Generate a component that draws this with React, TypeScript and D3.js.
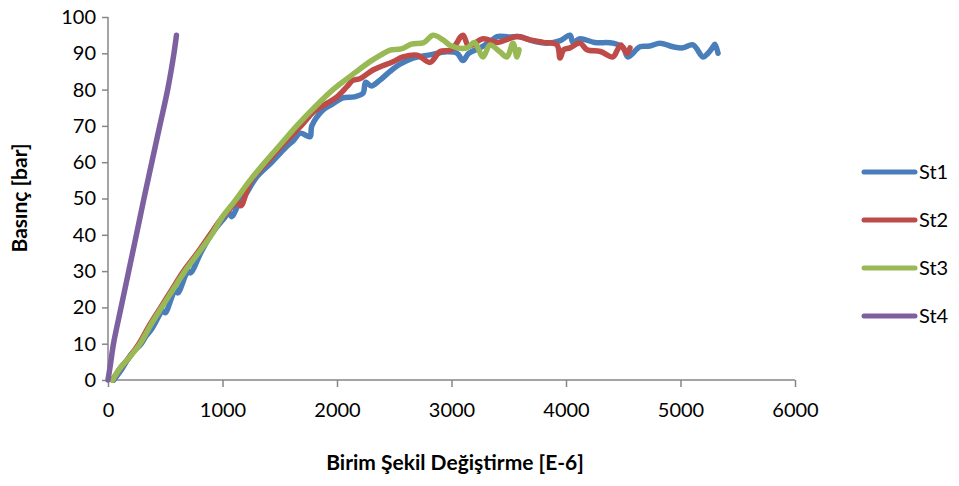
import * as d3 from "d3";
import { useEffect, useRef } from "react";

type Pt = [number, number];

const xTicks = [0, 1000, 2000, 3000, 4000, 5000, 6000];
const yTicks = [0, 10, 20, 30, 40, 50, 60, 70, 80, 90, 100];

// [strain E-6, pressure bar]
const st1: Pt[] = [
  [50, 0], [120, 3], [200, 7], [290, 10], [330, 12], [380, 14], [480, 19], [500, 18.5],
  [590, 25], [610, 24], [700, 30], [720, 29.5], [810, 35], [900, 40], [1000, 44], [1060, 46],
  [1080, 45], [1150, 49], [1200, 51], [1300, 56], [1430, 60], [1550, 64], [1620, 66], [1680, 68],
  [1764, 67], [1780, 70], [1878, 74.4], [1960, 76], [2052, 77.7], [2150, 78], [2227, 79],
  [2250, 82], [2300, 81], [2375, 82.6], [2463, 85], [2550, 87], [2664, 88.7], [2800, 89.5],
  [2960, 90.4], [3050, 90], [3100, 88], [3150, 90], [3249, 91.5], [3330, 93], [3397, 94.6],
  [3500, 94.5], [3598, 94.6], [3700, 93.5], [3834, 92.8], [3950, 93.5], [4035, 95], [4060, 93],
  [4122, 94], [4250, 93], [4410, 92.8], [4500, 91.5], [4541, 89], [4646, 91.8], [4730, 92],
  [4821, 92.8], [4935, 91.8], [5020, 91.5], [5109, 92.3], [5197, 89], [5240, 90], [5284, 91.8],
  [5300, 92.5], [5328, 90],
];

const st2: Pt[] = [
  [40, 0], [100, 3], [180, 6], [270, 10], [360, 15], [460, 20], [560, 25], [660, 30],
  [780, 35], [890, 40], [980, 44], [1060, 47], [1130, 49], [1160, 48], [1250, 55], [1390, 60],
  [1530, 65], [1686, 70], [1800, 74], [1900, 76], [2000, 78], [2087, 80.8], [2140, 82.6],
  [2200, 83], [2314, 85.4], [2489, 87.7], [2576, 89], [2700, 89.5], [2812, 87.5], [2900, 90.5],
  [3000, 91], [3100, 95], [3150, 92], [3275, 94], [3400, 93], [3500, 94], [3572, 94.6],
  [3686, 93.7], [3800, 93], [3921, 92.3], [3948, 88.7], [3980, 91], [4035, 91.5], [4122, 92.8],
  [4183, 91], [4300, 90.5], [4410, 89], [4450, 91], [4480, 92.3], [4533, 90], [4559, 91.5],
];

const st3: Pt[] = [
  [40, 0], [100, 3], [180, 6], [280, 10], [370, 15], [469, 20], [570, 25], [672, 30],
  [790, 35], [905, 40], [1000, 45], [1100, 49], [1240, 55], [1371, 60], [1510, 65], [1648, 70],
  [1800, 75], [1965, 80], [2130, 84], [2288, 87.7], [2380, 89.5], [2463, 90.9], [2560, 91.2],
  [2650, 92.5], [2760, 93], [2838, 95], [2926, 93.7], [3000, 92], [3135, 91.5], [3200, 93],
  [3275, 89], [3336, 92.3], [3420, 90.5], [3485, 89], [3537, 92.8], [3572, 89], [3590, 91],
];

const st4: Pt[] = [
  [0, 0], [20, 4], [48, 10], [114, 20], [181, 30], [248, 40], [314, 50],
  [383, 60], [452, 70], [521, 80], [576, 90], [598, 95],
];

const seriesNames = ["St1", "St2", "St3", "St4"];
const seriesColors = ["#4a7ebb", "#be4b48", "#98b954", "#7d60a0"];
const seriesData = [st1, st2, st3, st4];

const W = 959;
const H = 486;
const font = "Lato, 'Open Sans', sans-serif";

export default function App() {
  const ref = useRef<SVGSVGElement>(null);

  useEffect(() => {
    const svg = d3.select(ref.current);
    svg.selectAll("*").remove();

    const x = d3.scaleLinear().domain([0, 6000]).range([108, 795]);
    const y = d3.scaleLinear().domain([0, 100]).range([380, 17]);
    const axisColor = "#868686";

    // y axis
    const gy = svg.append("g").attr("transform", "translate(108,0)")
      .call(d3.axisLeft(y).tickValues(yTicks).tickSize(6).tickPadding(6));
    // x axis
    const gx = svg.append("g").attr("transform", "translate(0,380)")
      .call(d3.axisBottom(x).tickValues(xTicks).tickFormat(d3.format("d")).tickSize(7).tickPadding(16));

    [gx, gy].forEach((g) => {
      g.select(".domain").attr("stroke", axisColor).attr("stroke-width", 1.5);
      g.selectAll(".tick line").attr("stroke", axisColor).attr("stroke-width", 1.5);
      g.selectAll(".tick text")
        .attr("fill", "#000")
        .style("font-family", font)
        .style("font-size", "20px");
    });
    gx.select(".domain").attr("d", "M108,0H795");
    gy.select(".domain").attr("d", "M0,17V380");

    const line = d3.line<Pt>()
      .x((d) => x(d[0]))
      .y((d) => y(d[1]))
      .curve(d3.curveCatmullRom.alpha(0.5));

    seriesData.forEach((data, i) => {
      svg.append("path")
        .datum(data)
        .attr("d", line)
        .attr("fill", "none")
        .attr("stroke", seriesColors[i])
        .attr("stroke-width", 5.5)
        .attr("stroke-linejoin", "round")
        .attr("stroke-linecap", "round");
    });

    // legend
    seriesNames.forEach((name, i) => {
      const ly = 172 + i * 48;
      svg.append("line")
        .attr("x1", 864).attr("x2", 915).attr("y1", ly).attr("y2", ly)
        .attr("stroke", seriesColors[i]).attr("stroke-width", 5)
        .attr("stroke-linecap", "round");
      svg.append("text")
        .attr("x", 919).attr("y", ly).attr("dy", "0.35em")
        .style("font-family", font).style("font-size", "20px")
        .text(name);
    });

    // titles
    svg.append("text")
      .attr("x", 455).attr("y", 470)
      .attr("text-anchor", "middle")
      .style("font-family", font).style("font-size", "21px").style("font-weight", "bold")
      .text("Birim Şekil Değiştirme [E-6]");

    svg.append("text")
      .attr("transform", "translate(27,198) rotate(-90)")
      .attr("text-anchor", "middle")
      .style("font-family", font).style("font-size", "21px").style("font-weight", "bold")
      .text("Basınç [bar]");
  }, []);

  return (
    <svg ref={ref} width={W} height={H}
      style={{ position: "absolute", left: 0, top: 0, background: "#fff" }} />
  );
}
